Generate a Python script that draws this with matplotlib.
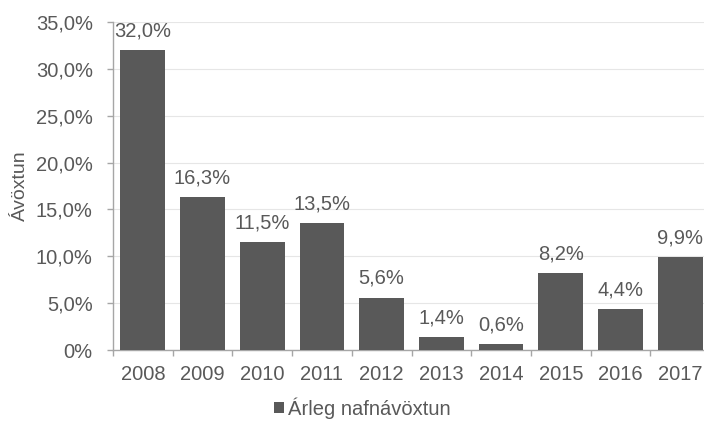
import matplotlib
matplotlib.use("Agg")
import matplotlib.pyplot as plt
from matplotlib.ticker import FuncFormatter, FixedLocator
from matplotlib.patches import Patch

years = ["2008", "2009", "2010", "2011", "2012", "2013", "2014", "2015", "2016", "2017"]
values = [32.0, 16.3, 11.5, 13.5, 5.6, 1.4, 0.6, 8.2, 4.4, 9.9]
series_name = "Árleg nafnávöxtun"
y_label = "Ávöxtun"

plt.rcParams['font.family'] = ['Liberation Sans', 'DejaVu Sans']
txt = '#595959'
bar_c = '#595959'
fs = 14.5

fig = plt.figure(figsize=(7.04, 4.21), dpi=100)
ax = fig.add_axes([113/704, 1-350/421, 597/704, (350-22)/421])

x = list(range(len(years)))
bars = ax.bar(x, values, width=0.75, color=bar_c, zorder=3)
ax.set_xlim(-0.5, len(years)-0.5)
ax.set_ylim(0, 35)
ax.yaxis.set_major_locator(FixedLocator([0, 5, 10, 15, 20, 25, 30, 35]))

def fmt(v, pos):
    if v == 0:
        return "0%"
    return f"{v:.1f}".replace('.', ',') + "%"
ax.yaxis.set_major_formatter(FuncFormatter(fmt))
ax.grid(axis='y', color='#e6e6e6', linewidth=0.8, zorder=0)

ax.set_xticks(x)
ax.set_xticklabels(years)
ax.tick_params(axis='x', which='major', length=0, pad=11, labelsize=fs, labelcolor=txt)
ax.set_xticks([i + 0.5 for i in range(len(years)-1)] + [-0.5], minor=True)
ax.tick_params(axis='x', which='minor', length=4.5, color='#a6a6a6', width=1)
ax.tick_params(axis='y', length=4.5, color='#a6a6a6', width=1, labelsize=fs, labelcolor=txt, pad=10)

for s in ['top', 'right']:
    ax.spines[s].set_visible(False)
for s in ['left', 'bottom']:
    ax.spines[s].set_color('#a6a6a6')
    ax.spines[s].set_linewidth(1)

for xi, v in zip(x, values):
    ax.annotate(f"{v:.1f}".replace('.', ',') + "%", (xi, v), xytext=(0, 7),
                textcoords='offset points', ha='center', va='bottom',
                fontsize=fs, color=txt, zorder=4)

ax.set_ylabel(y_label, fontsize=fs - 0.5, color=txt, labelpad=5)

handle = Patch(facecolor=bar_c, edgecolor='none')
fig.legend([handle], [series_name], loc='center', bbox_to_anchor=(362/704, 1-408/421),
           frameon=False, fontsize=fs, handlelength=0.5, handleheight=0.5,
           handletextpad=0.2, labelcolor=txt)

fig.savefig("out.png", dpi=100)
